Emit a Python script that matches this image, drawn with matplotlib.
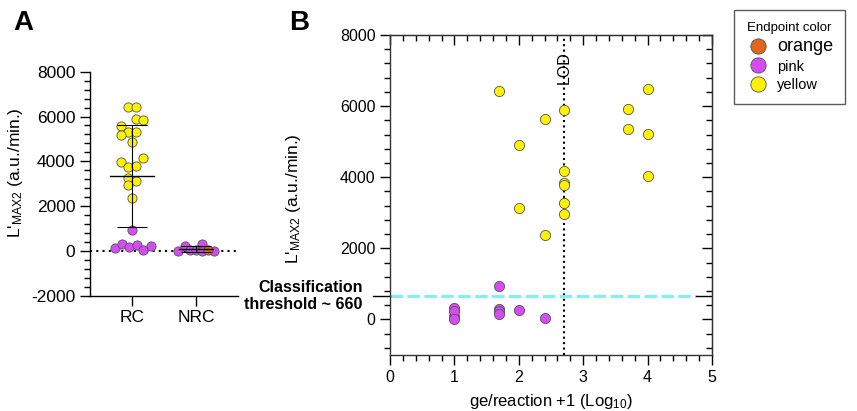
import numpy as np
import matplotlib
matplotlib.use("Agg")
import matplotlib.pyplot as plt
from matplotlib.lines import Line2D
from matplotlib.ticker import MultipleLocator

plt.rcParams["font.family"] = ["Liberation Sans", "DejaVu Sans"]
plt.rcParams["mathtext.fontset"] = "custom"
plt.rcParams["mathtext.rm"] = "Liberation Sans"
plt.rcParams["mathtext.it"] = "Liberation Sans:italic"
plt.rcParams["axes.unicode_minus"] = False

YELLOW = "#fff200"
PINK = "#d64cf2"
ORANGE = "#e0661c"
CYAN = "#7ff0f4"
EDGE = "#555555"

# ---- panel A data (L'max2 per group), offsets = swarm spread
rc_yellow = [6414, 6414, 5878, 5848, 5580, 5313, 5313, 5193, 4866, 4167,
             3988, 3735, 3810, 3244, 3110, 2946, 2351]
rc_yellow_off = [-0.07, 0.06, 0.06, 0.17, -0.17, -0.06, 0.06, -0.17, 0.0, 0.17,
                 -0.17, -0.06, 0.06, -0.06, 0.06, -0.06, 0.0]
rc_pink = [938, 119, 298, 164, 268, 45, 223]
rc_pink_off = [0.0, -0.27, -0.16, -0.05, 0.07, 0.17, 0.29]
nrc_pink = [10, 223, 20, 30, 312, 5, 0]
nrc_pink_off = [-0.29, -0.18, -0.09, 0.0, 0.09, 0.09, 0.28]
nrc_orange = [45]
nrc_orange_off = [0.18]
groups = ["RC", "NRC"]

# ---- panel B data (log10 ge/reaction +1 vs L'max2)
b_yellow_x = [1.7, 2.0, 2.0, 2.4, 2.4, 2.7, 2.7, 2.7, 2.7, 2.7, 2.7, 3.7, 3.7, 4.0, 4.0, 4.0]
b_yellow_y = [6430, 4910, 3136, 5634, 2385, 5887, 4188, 3840, 3783, 3287, 2977,
              5924, 5352, 6479, 5221, 4028]
b_orange_x = [1.0]
b_orange_y = [110]
b_pink_x = [1.0, 1.0, 1.0, 1.7, 1.7, 1.7, 1.7, 2.0, 2.4]
b_pink_y = [330, 250, 20, 939, 301, 235, 160, 272, 47]
lod = 2.7
threshold = 660

fig = plt.figure(figsize=(8.57, 4.11), dpi=100)

# ================= panel A =================
axA = fig.add_axes([0.105, 0.2805, 0.173, 0.545])
axA.set_xlim(-0.66, 1.66)
axA.set_ylim(-2000, 8000)
axA.axhline(0, color="black", ls=(0, (1, 2)), lw=1.5, zorder=1)

mk = dict(s=44, edgecolors=EDGE, linewidths=0.6, zorder=3)
axA.scatter(0 + np.array(rc_yellow_off), rc_yellow, color=YELLOW, **mk)
axA.scatter(0 + np.array(rc_pink_off), rc_pink, color=PINK, **mk)
axA.scatter(1 + np.array(nrc_pink_off), nrc_pink, color=PINK, **mk)
axA.scatter(1 + np.array(nrc_orange_off), nrc_orange, color=ORANGE, **mk)

# mean +- SD
for i, vals in enumerate([rc_yellow + rc_pink, nrc_pink + nrc_orange]):
    m = np.mean(vals)
    sd = np.std(vals, ddof=1)
    half = 0.34 if i == 0 else 0.26
    axA.plot([i - half, i + half], [m, m], color="black", lw=1.0, zorder=4)
    axA.errorbar(i, m, yerr=sd, fmt="none", ecolor="black", elinewidth=0.8,
                 capsize=11, capthick=0.8, zorder=4)

axA.set_xticks([0, 1])
axA.set_xticklabels(groups)
axA.yaxis.set_major_locator(MultipleLocator(2000))
axA.yaxis.set_minor_locator(MultipleLocator(400))
for s in ["top", "right"]:
    axA.spines[s].set_visible(False)
for s in ["left", "bottom"]:
    axA.spines[s].set_linewidth(1.0)
axA.tick_params(axis="both", which="major", length=7, width=1.0, labelsize=12.5, direction="out")
axA.tick_params(axis="y", which="minor", length=4, width=1.0, direction="out")
axA.set_ylabel(r"L$'_{\rm MAX2}$ (a.u./min.)", fontsize=12.5)
axA.yaxis.set_label_coords(-0.44, 0.55)

# ================= panel B =================
axB = fig.add_axes([0.4551, 0.1363, 0.3757, 0.7786])
axB.set_xlim(0, 5)
axB.set_ylim(-1000, 8000)

axB.axvline(lod, color="black", ls=(0, (1, 1.6)), lw=1.5, zorder=1)
axB.text(lod, 7070, "LOD", rotation=90, ha="center", va="center", fontsize=11.5, zorder=2)

axB.plot([0, 4.75], [threshold, threshold], color=CYAN, lw=2.3, dashes=(3.9, 1.4), zorder=2)
axB.plot([4.75, 5], [threshold, threshold], color="black", lw=1.0, zorder=2)
axB.plot([-0.27, 0], [threshold, threshold], color="black", lw=1.0, zorder=2, clip_on=False)

mkB = dict(s=54, edgecolors=EDGE, linewidths=0.6, zorder=3)
axB.scatter(b_orange_x, b_orange_y, color=ORANGE, **mkB)
axB.scatter(b_pink_x, b_pink_y, color=PINK, **mkB)
axB.scatter(b_yellow_x, b_yellow_y, color=YELLOW, **mkB)

axB.xaxis.set_major_locator(MultipleLocator(1))
axB.xaxis.set_minor_locator(MultipleLocator(0.2))
axB.yaxis.set_major_locator(MultipleLocator(2000))
axB.yaxis.set_minor_locator(MultipleLocator(400))
axB.tick_params(axis="both", which="major", length=7, width=1.0, labelsize=11.5,
                direction="out", top=False, right=False)
axB.tick_params(axis="both", which="minor", length=4, width=1.0, direction="out")
for s in axB.spines.values():
    s.set_linewidth(1.0)
    s.set_color("#333333")

# mirrored inward ticks on top / right
top = axB.secondary_xaxis("top")
top.xaxis.set_major_locator(MultipleLocator(1))
top.xaxis.set_minor_locator(MultipleLocator(0.2))
top.tick_params(which="major", direction="in", length=7, width=1.0, labeltop=False)
top.tick_params(which="minor", direction="in", length=4, width=1.0)
right = axB.secondary_yaxis("right")
right.yaxis.set_major_locator(MultipleLocator(2000))
right.yaxis.set_minor_locator(MultipleLocator(400))
right.tick_params(which="major", direction="in", length=7, width=1.0, labelright=False)
right.tick_params(which="minor", direction="in", length=4, width=1.0)

axB.set_ylabel(r"L$'_{\rm MAX2}$ (a.u./min.)", fontsize=12.5)
axB.yaxis.set_label_coords(-0.27, 0.49)
axB.set_xlabel(r"ge/reaction +1 (Log$_{10}$)", fontsize=12)
axB.xaxis.set_label_coords(0.5, -0.115)

axB.text(-0.085, threshold, "Classification\nthreshold ~ 660", transform=axB.get_yaxis_transform(),
         ha="right", va="center", fontsize=11.5, fontweight="bold", linespacing=1.1)

# panel letters
fig.text(0.016, 0.975, "A", fontsize=20, fontweight="bold", va="top")
fig.text(0.337, 0.975, "B", fontsize=20, fontweight="bold", va="top")

# legend
handles = [Line2D([], [], ls="none", marker="o", ms=11, mfc=c, mec=EDGE, mew=0.6)
           for c in [ORANGE, PINK, YELLOW]]
leg = fig.legend(handles, ["orange", "pink", "yellow"], title="Endpoint color",
                 loc="upper right", bbox_to_anchor=(0.994, 0.993), frameon=True,
                 fancybox=False, edgecolor="#333333", fontsize=10.5, title_fontsize=9.5,
                 handletextpad=0.5, labelspacing=0.3, borderpad=0.8, handlelength=1.6)
leg.get_frame().set_linewidth(1.0)
leg.get_texts()[0].set_fontsize(13)

fig.savefig("out.png", dpi=100)
